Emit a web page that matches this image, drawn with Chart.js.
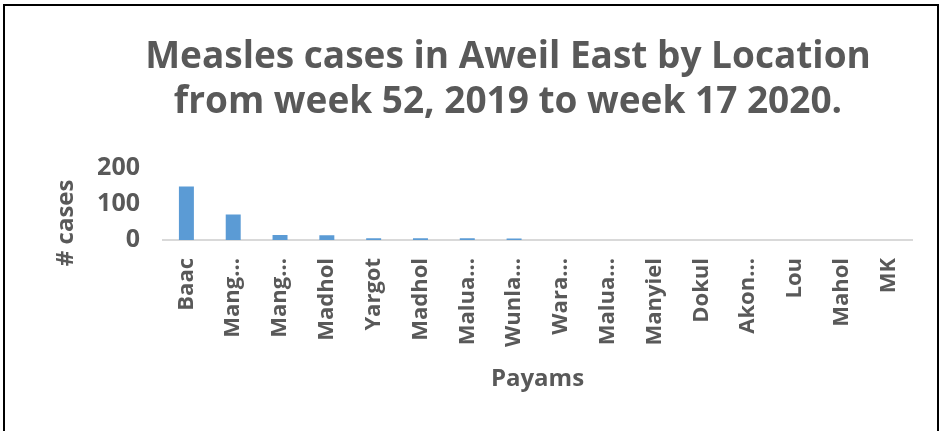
<!DOCTYPE html>
<html>
<head>
<meta charset="utf-8">
<script src="https://cdn.jsdelivr.net/npm/chart.js@4/dist/chart.umd.min.js"></script>
<style>
  body { margin: 0; background: #fff; overflow: hidden; }
  #frame { position: absolute; left: 3px; top: 4px; right: 3px; bottom: -10px; border: 2px solid #000; }
  #chart-canvas { position: absolute; left: 0; top: 0; }
</style>
</head>
<body>
<div id="frame"></div>
<canvas id="chart-canvas" width="942" height="431"></canvas>
<script>
const payams = ['Baac', 'Mang…', 'Mang…', 'Madhol', 'Yargot', 'Madhol', 'Malua…', 'Wunla…',
  'Wara…', 'Malua…', 'Manyiel', 'Dokul', 'Akon…', 'Lou', 'Mahol', 'MK'];
const cases = [149, 71, 14, 13, 5, 5, 5, 4, 0, 0, 0, 0, 0, 0, 0, 0];
const yTicks = [0, 100, 200];

const ctx = document.getElementById('chart-canvas');
const grey = '#595959';
const fam = '"Open Sans", "Liberation Sans", sans-serif';

// Excel centres the title on the plot area, not on the whole canvas
const shiftTitle = {
  id: 'shiftTitle',
  afterLayout(chart) {
    const t = chart.titleBlock;
    if (t) { t.left += 26; t.right += 26; }
  }
};

let myChart = new Chart(ctx, {
  type: 'bar',
  data: {
    labels: payams,
    datasets: [
      {
        data: cases,
        backgroundColor: '#5b9bd5',
        barPercentage: 0.64,
        categoryPercentage: 0.5
      }
    ]
  },
  options: {
    responsive: false,
    animation: false,
    layout: {
      padding: { left: 52, right: 30, bottom: 37 }
    },
    scales: {
      x: {
        afterFit: s => { s.height = 154; },
        grid: { display: false, drawTicks: false },
        border: { display: true, color: '#d9d9d9', width: 2 },
        ticks: {
          autoSkip: false,
          maxRotation: 90,
          minRotation: 90,
          padding: 18,
          color: grey,
          font: { family: fam, size: 22, weight: 'bold' }
        },
        title: {
          display: true,
          text: 'Payams',
          color: grey,
          padding: 0,
          font: { family: fam, size: 24, weight: 'bold' }
        }
      },
      y: {
        min: 0,
        max: 200,
        afterBuildTicks: axis => { axis.ticks = yTicks.map(v => ({ value: v })); },
        afterFit: s => { s.width = 111; },
        grid: { display: false, drawTicks: false },
        border: { display: false },
        ticks: {
          padding: 23,
          color: grey,
          font: { family: fam, size: 25, weight: 'bold' }
        },
        title: {
          display: true,
          text: '# cases      ',
          color: grey,
          padding: 0,
          font: { family: fam, size: 24, weight: 'bold' }
        }
      }
    },
    plugins: {
      legend: { display: false },
      tooltip: { enabled: false },
      title: {
        display: true,
        text: ['Measles cases in Aweil East by Location', 'from week 52, 2019 to week 17 2020.'],
        color: grey,
        padding: { top: 35, bottom: 43 },
        font: { family: fam, size: 37, weight: 'bold', lineHeight: 1.22 }
      }
    }
  },
  plugins: [shiftTitle]
});
</script>
</body>
</html>
